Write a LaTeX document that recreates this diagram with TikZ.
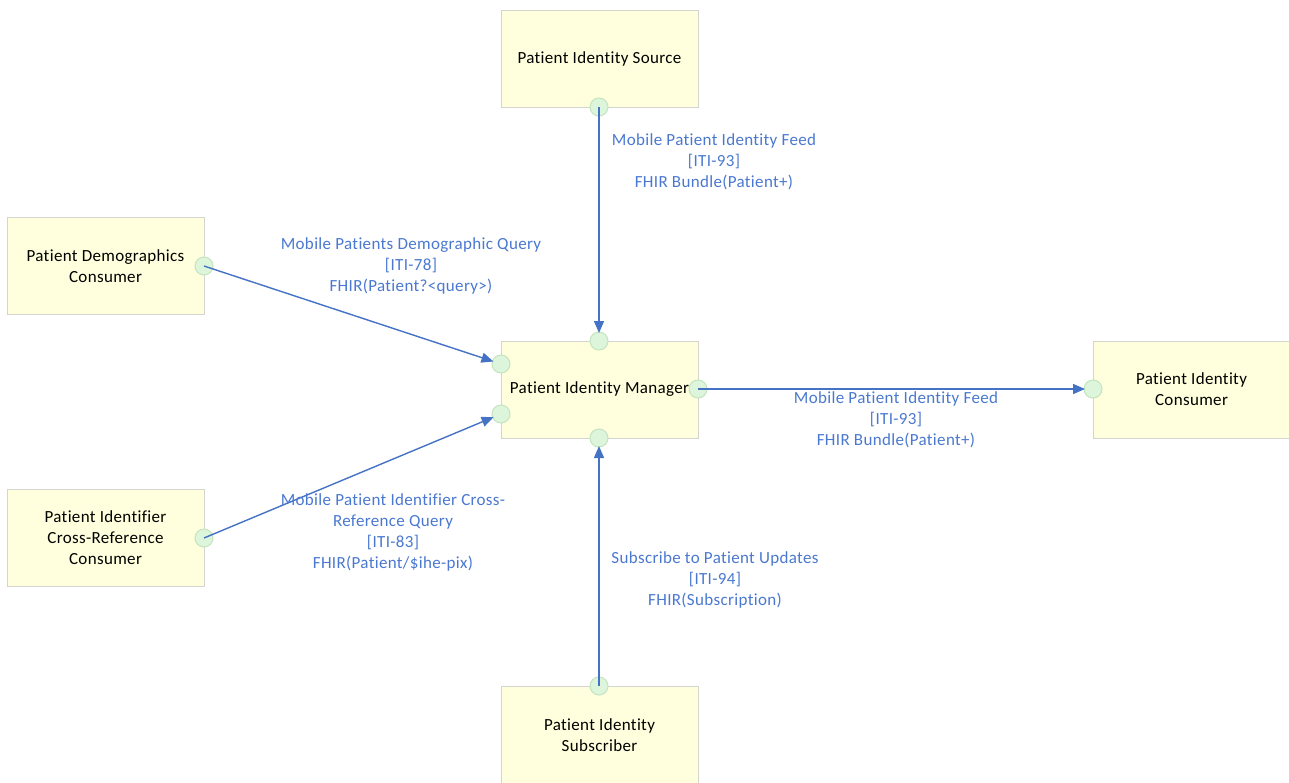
\documentclass[tikz,border=0pt]{standalone}
\usepackage{fontspec}
\setmainfont{Carlito}[Ligatures={NoCommon}, LetterSpace=2]
\usetikzlibrary{arrows.meta}
\definecolor{boxfill}{HTML}{FFFFDD}
\definecolor{boxline}{HTML}{D4D4D0}
\definecolor{portfill}{HTML}{DDF5DA}
\definecolor{portline}{HTML}{C4E4C0}
\definecolor{linkblue}{HTML}{4472C4}
\definecolor{labelblue}{HTML}{4A78D0}
\tikzset{
  actor/.style={rectangle, draw=boxline, line width=1pt, fill=boxfill, minimum width=197pt, minimum height=97pt, inner sep=0pt, align=center, font=\fontsize{17}{21}\selectfont, text=black},
  port/.style={circle, draw=portline, line width=1pt, fill=portfill, minimum size=18pt, inner sep=0pt},
  link/.style={draw=linkblue, line width=1.4pt, -{Triangle[length=12pt,width=10pt]}, shorten >=8pt},
  lbl/.style={align=center, font=\fontsize{17}{21}\selectfont, text=labelblue, inner sep=0pt}
}
\begin{document}
\begin{tikzpicture}[x=1pt,y=-1pt]
\useasboundingbox (0,0) rectangle (1289,782);
\begin{scope}
\clip (0,0) rectangle (1289,782);
% actors
\node[actor] (src) at (599.5,58.5) {Patient Identity Source};
\node[actor] (dem) at (105.5,266) {Patient Demographics\\Consumer};
\node[actor] (mgr) at (599.5,389.5) {Patient Identity Manager};
\node[actor] (con) at (1191.5,389.5) {Patient Identity\\Consumer};
\node[actor] (xrf) at (105.5,537.5) {Patient Identifier\\Cross-Reference\\Consumer};
\node[actor] (sub) at (599.5,735) {Patient Identity\\Subscriber};
% ports
\node[port] (psrc) at (599,107) {};
\node[port] (pdem) at (204,266) {};
\node[port] (pmt) at (599,341) {};
\node[port] (pml1) at (501,364) {};
\node[port] (pml2) at (501,414) {};
\node[port] (pmr) at (698,389) {};
\node[port] (pmb) at (599,438) {};
\node[port] (pcon) at (1093,389) {};
\node[port] (pxrf) at (204,538) {};
\node[port] (psub) at (599,686) {};
% links
\draw[link] (psrc.center) -- (pmt.center);
\draw[link] (pdem.center) -- (pml1.center);
\draw[link] (pxrf.center) -- (pml2.center);
\draw[link] (pmr.center) -- (pcon.center);
\draw[link] (psub.center) -- (pmb.center);
% labels
\node[lbl] (l1) at (714,162) {Mobile Patient Identity Feed\\{}[ITI-93]\\FHIR Bundle(Patient+)};
\node[lbl] (l2) at (411,266) {Mobile Patients Demographic Query\\{}[ITI-78]\\FHIR(Patient?<query>)};
\node[lbl] (l3) at (896,420) {Mobile Patient Identity Feed\\{}[ITI-93]\\FHIR Bundle(Patient+)};
\node[lbl] (l4) at (393,532) {Mobile Patient Identifier Cross-\\Reference Query\\{}[ITI-83]\\FHIR(Patient/\$ihe-pix)};
\node[lbl] (l5) at (715,580) {Subscribe to Patient Updates\\{}[ITI-94]\\FHIR(Subscription)};
\end{scope}
\end{tikzpicture}
\end{document}
